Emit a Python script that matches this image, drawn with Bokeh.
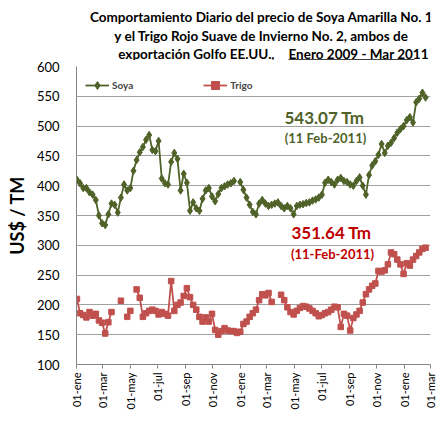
import numpy as np
import pandas as pd
from bokeh.plotting import figure
from bokeh.layouts import column
from bokeh.models import (FixedTicker, Range1d, Legend, LegendItem, Label,
                          ColumnDataSource)
from bokeh.core.properties import value
from bokeh.embed import file_html
from bokeh.resources import INLINE

nan = np.nan

# weekly observations (Fridays) Jan-2009 .. Feb-2011, US$ / TM
week_start = "2009-01-02"
soya = [410, 404, 396, 396, 389, 385, 376, 350, 337, 334,
        352, 370, 368, 355, 380, 402, 392, 396, 425, 443,
        456, 465, 477, 485, 460, 458, 475, 412, 404, 402,
        440, 455, 445, 392, 420, 405, 358, 372, 362, 358,
        378, 392, 396, 382, 374, 386, 396, 399, 402, 404,
        408, nan, 406, 393, 380, 368, 356, 352, 370, 376,
        370, 366, 368, 370, 372, 366, 362, 366, 362, 352,
        366, 368, 369, 371, 372, 375, 377, 380, 385, 405,
        410, 406, 402, 410, 413, 408, 406, 402, 400, 408,
        414, 400, 385, 418, 434, 441, 452, 470, 455, 467,
        472, 480, 489, 495, 500, 510, 515, 506, 540, 546,
        556, 548]
trigo = [210, 186, 183, 179, 188, 182, 185, 174, 170, 152,
         171, 188, nan, nan, 207, nan, 180, 190, nan, 226,
         212, 180, 186, 190, 192, 190, 184, 188, 185, 182,
         240, 190, 200, 204, 215, 228, 213, 200, 192, 180,
         172, 179, 172, 185, 158, 150, 156, 161, 157, 156,
         156, 153, 155, 168, 172, 180, 186, 192, 208, 218,
         216, 220, 205, nan, nan, 217, 208, 196, 188, 184,
         190, 195, 198, 197, 194, 190, 186, 181, 183, 186,
         188, 192, 197, 196, 163, 185, 182, 157, 178, 184,
         190, 204, 218, 226, 232, 236, 257, 256, 258, 268,
         288, 285, 276, 268, 252, 270, 266, 276, 282, 288,
         294, 296]

tick_dates = ["2009-01-01", "2009-03-01", "2009-05-01", "2009-07-01",
              "2009-09-01", "2009-11-01", "2010-01-01", "2010-03-01",
              "2010-05-01", "2010-07-01", "2010-09-01", "2010-11-01",
              "2011-01-01", "2011-03-01"]
tick_labels = ["01-ene", "01-mar", "01-may", "01-jul", "01-sep", "01-nov",
               "01-ene", "01-mar", "01-may", "01-jul", "01-sep", "01-nov",
               "01-ene", "01-mar"]
y_ticks = [100, 150, 200, 250, 300, 350, 400, 450, 500, 550, 600]

title_lines = ["Comportamiento Diario del precio de Soya Amarilla No. 1",
               "y el Trigo Rojo Suave de Invierno No. 2, ambos de",
               "exportación Golfo EE.UU.,"]
title_period = "Enero  2009 - Mar 2011"

dates = pd.date_range(week_start, periods=len(soya), freq="7D")
src = ColumnDataSource(dict(d=dates, soya=soya, trigo=trigo))

tick_ms = [pd.Timestamp(t).value / 1e6 for t in tick_dates]

SOYA_C = "#4F6228"
TRIGO_C = "#C0504D"
FONT = "Lato"
W = 438
BL, BR = 76, 8

# ---------------- title strip (pixel coordinates) ----------------
t = figure(width=W, height=60, output_backend="svg", toolbar_location=None,
           x_range=Range1d(BL, W - BR), y_range=Range1d(60, 0),
           min_border_left=BL, min_border_right=BR,
           min_border_top=0, min_border_bottom=0,
           x_axis_location=None, y_axis_location=None)
t.outline_line_color = None
t.xgrid.grid_line_color = None
t.ygrid.grid_line_color = None
tkw = dict(text_font=value(FONT), text_font_size="13.5px",
           text_font_style="bold", text_color="black",
           text_baseline="middle")
t.text(x=[261, 261], y=[16, 35], text=title_lines[:2], text_align="center", **tkw)
t.text(x=[274], y=[53], text=[title_lines[2]], text_align="right", **tkw)
t.text(x=[288], y=[53], text=[title_period], text_align="left", **tkw)
t.segment(x0=[288], y0=[59.5], x1=[414], y1=[59.5], line_color="black",
          line_width=1.3)

# ---------------- main chart ----------------
p = figure(width=W, height=376, output_backend="svg", toolbar_location=None,
           x_axis_type="datetime",
           x_range=Range1d(tick_ms[0], tick_ms[-1]),
           y_range=Range1d(100, 600),
           min_border_left=BL, min_border_right=BR,
           min_border_top=6, min_border_bottom=72)
p.outline_line_color = None

p.xaxis.ticker = FixedTicker(ticks=tick_ms)
p.xaxis.major_label_overrides = {t_: l for t_, l in zip(tick_ms, tick_labels)}
p.xaxis.major_label_orientation = np.pi / 2
p.xaxis.major_label_text_font = FONT
p.xaxis.major_label_text_font_size = "11px"
p.xaxis.major_label_text_color = "black"
p.xaxis.major_tick_out = 4
p.xaxis.major_tick_in = 0
p.xaxis.minor_tick_out = 0
p.xaxis.minor_tick_in = 0
p.xaxis.axis_line_color = "#868686"
p.xaxis.major_tick_line_color = "#868686"
p.xaxis.major_label_standoff = 4

p.yaxis.ticker = FixedTicker(ticks=y_ticks)
p.yaxis.major_label_text_font = FONT
p.yaxis.major_label_text_font_size = "13px"
p.yaxis.major_label_text_color = "black"
p.yaxis.major_tick_out = 0
p.yaxis.major_tick_in = 0
p.yaxis.minor_tick_out = 0
p.yaxis.minor_tick_in = 0
p.yaxis.axis_line_color = "#868686"
p.yaxis.major_label_standoff = 17
p.yaxis.axis_label = "US$ / TM"
p.yaxis.axis_label_text_font = FONT
p.yaxis.axis_label_text_font_size = "18px"
p.yaxis.axis_label_text_font_style = "bold"
p.yaxis.axis_label_text_color = "black"
p.yaxis.axis_label_standoff = 6

p.xgrid.grid_line_color = None
p.ygrid.grid_line_color = "#A0A0A0"
p.ygrid.grid_line_width = 1

l1 = p.line("d", "soya", source=src, color=SOYA_C, line_width=1.8)
m1 = p.scatter("d", "soya", source=src, marker="diamond", size=7.5,
               fill_color=SOYA_C, line_color=SOYA_C)
l2 = p.line("d", "trigo", source=src, color=TRIGO_C, line_width=1.8)
m2 = p.scatter("d", "trigo", source=src, marker="square", size=5.5,
               fill_color=TRIGO_C, line_color=TRIGO_C)

legend = Legend(items=[LegendItem(label="Soya", renderers=[l1, m1]),
                       LegendItem(label="Trigo", renderers=[l2, m2])],
                orientation="horizontal", location="top_left",
                border_line_color=None, background_fill_alpha=0,
                label_text_font=FONT, label_text_font_size="10px",
                label_text_font_style="bold", glyph_width=24,
                spacing=70, margin=9, padding=4, label_standoff=3)
p.add_layout(legend)

def lab(text, x, y, size, color):
    p.add_layout(Label(text=text, x=x, y=y, x_units="screen", y_units="screen",
                       text_align="center", text_baseline="middle",
                       text_font=FONT, text_font_size=size,
                       text_font_style="bold", text_color=color))

lab("543.07 Tm", 248, 247, "17px", SOYA_C)
lab("(11 Feb-2011)", 249, 227, "13px", SOYA_C)
lab("351.64 Tm", 255, 132, "17px", "#C00000")
lab("(11-Feb-2011)", 256, 111, "13px", "#C00000")

layout = column(t, p, spacing=0)
open("out.html", "w").write(file_html(layout, INLINE))
